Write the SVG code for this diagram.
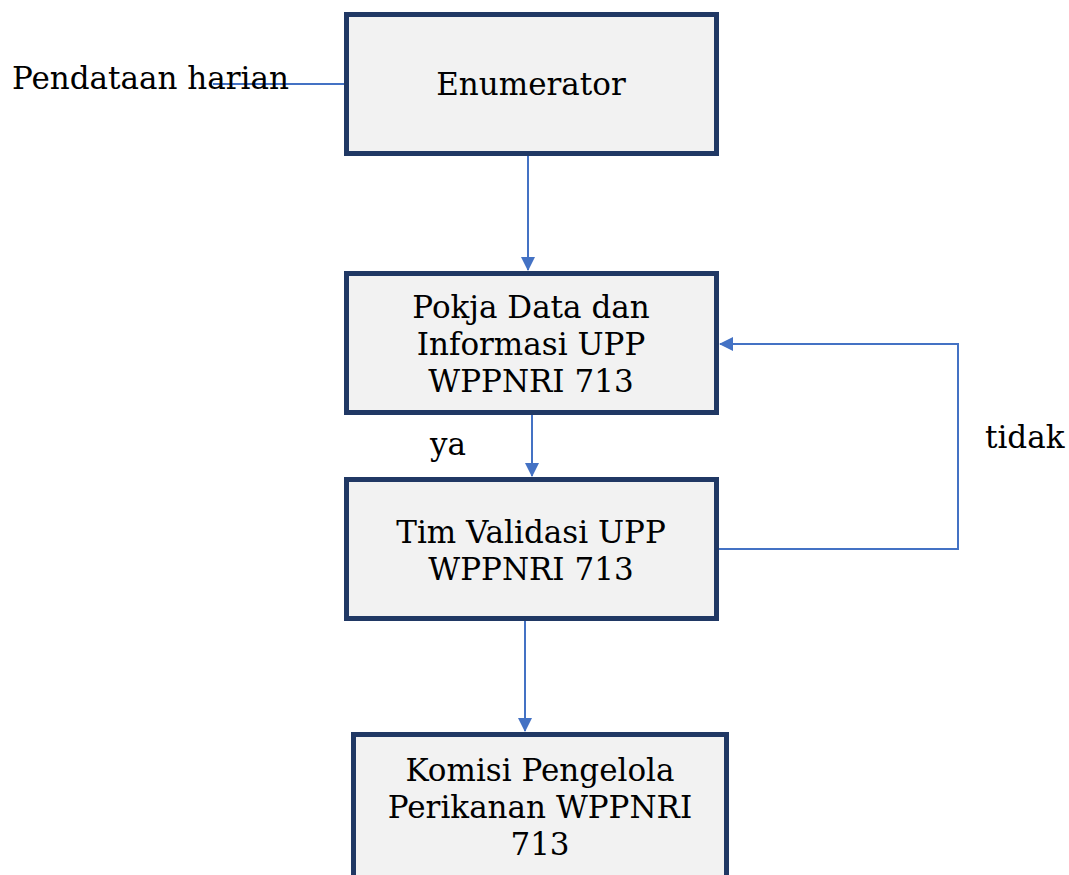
<svg xmlns="http://www.w3.org/2000/svg" width="1069" height="875" viewBox="0 0 1069 875">
<style>
.box{fill:#f2f2f2;stroke:#203864;stroke-width:5}
.t{font-family:"DejaVu Serif","Liberation Serif",serif;font-size:31px;fill:#000;text-anchor:middle}
.tl{font-family:"DejaVu Serif","Liberation Serif",serif;font-size:31px;fill:#000}
.c{fill:none;stroke:#4472c4;stroke-width:2}
</style>
<defs>
<marker id="ah" markerWidth="14" markerHeight="14" refX="13" refY="7" orient="auto" markerUnits="userSpaceOnUse" viewBox="0 0 14 14">
<path d="M0,0 L14,7 L0,14 z" fill="#4472c4"/>
</marker>
</defs>
<rect width="1069" height="875" fill="#fff"/>
<g id="connectors">
<path class="c" d="M213,84 H344"/>
<path class="c" d="M528,156 V270" marker-end="url(#ah)"/>
<path class="c" d="M532,415 V476" marker-end="url(#ah)"/>
<path class="c" d="M525,621 V731" marker-end="url(#ah)"/>
<path class="c" d="M719,549 H958 V344 H720" marker-end="url(#ah)"/>
</g>
<g id="label-pendataan"><text class="tl" x="12" y="89">Pendataan harian</text></g>
<g id="node-enumerator">
<rect class="box" x="346.5" y="14.5" width="370" height="139"/>
<text class="t" x="531" y="95">Enumerator</text>
</g>
<g id="node-pokja">
<rect class="box" x="346.5" y="273.5" width="370" height="139"/>
<text class="t" x="531" y="318">Pokja Data dan</text>
<text class="t" x="531" y="355">Informasi UPP</text>
<text class="t" x="531" y="392">WPPNRI 713</text>
</g>
<g id="node-tim">
<rect class="box" x="346.5" y="479.5" width="370" height="139"/>
<text class="t" x="531" y="543">Tim Validasi UPP</text>
<text class="t" x="531" y="580">WPPNRI 713</text>
</g>
<g id="node-komisi">
<rect class="box" x="353.5" y="734.5" width="373" height="150"/>
<text class="t" x="540" y="781">Komisi Pengelola</text>
<text class="t" x="540" y="818">Perikanan WPPNRI</text>
<text class="t" x="540" y="855">713</text>
</g>
<g id="label-ya"><text class="tl" x="430" y="455">ya</text></g>
<g id="label-tidak"><text class="tl" x="985" y="448">tidak</text></g>
</svg>
